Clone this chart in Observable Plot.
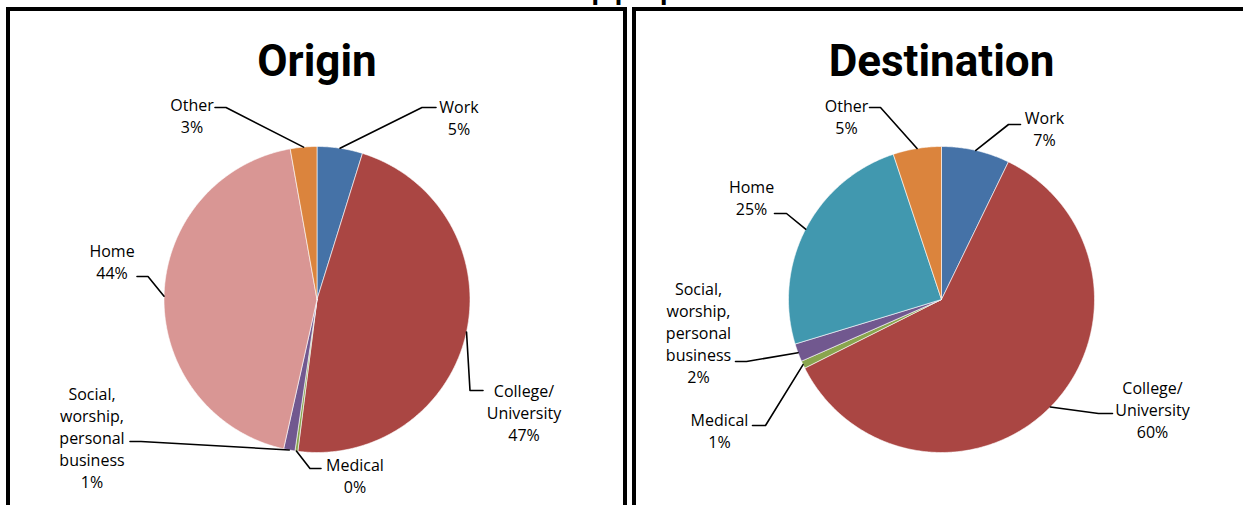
<!DOCTYPE html>
<html><head><meta charset="utf-8">
<script src="https://cdn.jsdelivr.net/npm/d3@7"></script>
<script src="https://cdn.jsdelivr.net/npm/@observablehq/plot@0.6"></script>
<style>
html,body{margin:0;padding:0;background:#fff;width:1243px;height:505px;overflow:hidden;position:relative;font-family:"Open Sans",sans-serif;}
.box{position:absolute;top:7px;border:4px solid #000;height:620px;overflow:hidden;background:#fff;}
.box svg{position:absolute;left:0;top:0;}
#top{position:absolute;top:-29px;left:0;width:1290px;text-align:center;font:bold 26px "Open Sans";color:#000;white-space:nowrap;}
</style></head><body>
<div id="top">Trip purposes</div>
<div class="box" id="b1" style="left:6px;width:613px"></div>
<div class="box" id="b2" style="left:632px;width:610px"></div>
<script>
// ---- data ----
const categories = ["Work", "College/University", "Medical", "Social, worship, personal business", "Home", "Other"];
const originValues = [4.8, 47.2, 0.3, 1.2, 43.7, 2.8];
const destinationValues = [7.2, 60.4, 0.8, 1.9, 24.6, 5.1];
const originColors = ["#4572A7", "#AA4643", "#89A54E", "#71588F", "#D99694", "#DB843D"];
const destinationColors = ["#4572A7", "#AA4643", "#89A54E", "#71588F", "#4198AF", "#DB843D"];

// ---- layout: label centres (t), leader elbow (e) and leader end (l), px offsets from pie centre ----
const originLayout = [
  {tx: 142, ty: -181, ex: 105, ey: -192, lx: 119, ly: -192},
  {tx: 207, ty: 114, ex: 153, ey: 91, lx: 166, ly: 91},
  {tx: 38, ty: 177.5, ex: -7, ey: 169, lx: 4, ly: 169},
  {tx: -225, ty: 139, ex: -176, ey: 142, lx: -187, ly: 142},
  {tx: -205, ty: -36.5, ex: -169, ey: -23, lx: -180, ly: -23},
  {tx: -125, ty: -182.5, ex: -91, ey: -192, lx: -102, ly: -192}
];
const destinationLayout = [
  {tx: 103, ty: -169.5, ex: 67, ey: -175, lx: 79, ly: -175},
  {tx: 211, ty: 111.5, ex: 157, ey: 114, lx: 171, ly: 114},
  {tx: -222, ty: 132, ex: -176, ey: 126, lx: -189, ly: 126},
  {tx: -243, ty: 34, ex: -195, ey: 62, lx: -206, ly: 62},
  {tx: -190, ty: -100.5, ex: -155, ey: -86, lx: -167, ly: -86},
  {tx: -95, ty: -181.5, ex: -61, ey: -192, lx: -72, ly: -192}
];

const wrap = s => s.replace("/", "/\n").replace(/ /g, "\n");

function chart(title, values, colors, layout, width) {
  const R = 153, cx = width / 2, cy = 288, height = 494;
  const arcs = d3.pie().sort(null).value(d => d)(values);
  const pts = [];
  arcs.forEach((a, i) => {
    const key = categories[i];
    pts.push({key, x: 0, y: 0});
    const n = Math.max(2, Math.ceil((a.endAngle - a.startAngle) / (Math.PI / 360)));
    for (let k = 0; k <= n; k++) {
      const t = a.startAngle + (a.endAngle - a.startAngle) * k / n;
      pts.push({key, x: Math.sin(t), y: Math.cos(t)});
    }
    pts.push({key, x: 0, y: 0});
  });
  const labels = arcs.map((a, i) => ({
    text: wrap(categories[i]) + "\n" + Math.round(values[i]) + "%",
    x: layout[i].tx / R, y: -layout[i].ty / R
  }));
  const leaders = [];
  arcs.forEach((a, i) => {
    const m = (a.startAngle + a.endAngle) / 2, L = layout[i];
    leaders.push({k: i, x: Math.sin(m), y: Math.cos(m)},
                 {k: i, x: L.ex / R, y: -L.ey / R},
                 {k: i, x: L.lx / R, y: -L.ly / R});
  });
  return Plot.plot({
    width, height, margin: 0,
    style: {background: "transparent", overflow: "visible"},
    x: {domain: [-1, 1], range: [cx - R, cx + R], axis: null},
    y: {domain: [-1, 1], range: [cy + R, cy - R], axis: null},
    color: {domain: categories, range: colors},
    marks: [
      Plot.line(pts, {x: "x", y: "y", z: "key", fill: "key", stroke: "#fff", strokeWidth: 0.6, curve: "linear"}),
      Plot.line(leaders, {x: "x", y: "y", z: "k", stroke: "#000", strokeWidth: 1.6, curve: "linear"}),
      Plot.text(labels, {x: "x", y: "y", text: "text", fontSize: 16, lineHeight: 1.375, fill: "#000",
        textAnchor: "middle", lineAnchor: "middle", dy: -2, fontFamily: "Open Sans"}),
      Plot.text([title], {frameAnchor: "top", lineAnchor: "middle", dy: 50, fontSize: 44,
        fontWeight: "bold", fontFamily: "Roboto", fill: "#000"})
    ]
  });
}

document.getElementById("b1").appendChild(chart("Origin", originValues, originColors, originLayout, 613));
document.getElementById("b2").appendChild(chart("Destination", destinationValues, destinationColors, destinationLayout, 610));
</script>
</body></html>
